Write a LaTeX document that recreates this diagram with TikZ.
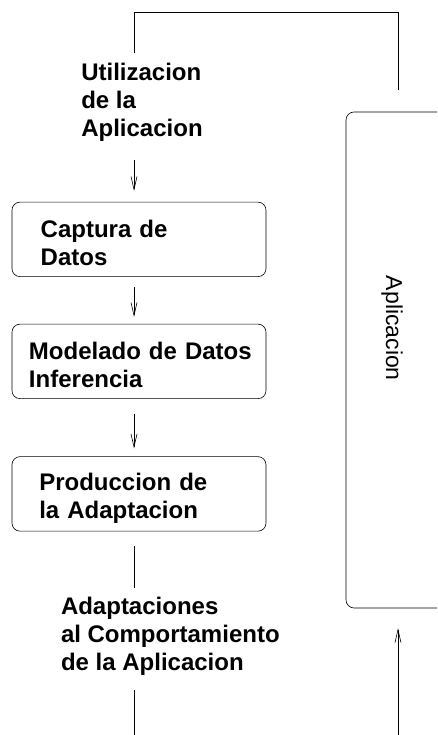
\documentclass[tikz,border=0pt]{standalone}
\usepackage{fontspec}
\setmainfont{Liberation Sans}
\usetikzlibrary{arrows.meta,positioning}

\begin{document}
\begin{tikzpicture}[x=1pt,y=1pt,->,>={Straight Barb[length=13pt,width=6pt]},%
    node distance=122pt,on grid,line width=0.6pt,
    caja/.style={draw,rounded corners=8pt,minimum width=254pt,
      minimum height=74.5pt,text width=246pt,align=left,inner sep=4pt,
      font=\bfseries\fontsize{24}{28}\selectfont,
      execute at begin node={\leftskip=#1\noindent\rule{0pt}{25.2pt}}},
    texto/.style={align=left,inner sep=0pt,anchor=north west,
      font=\bfseries\fontsize{24}{28}\selectfont}]
    \useasboundingbox (0,0) rectangle (437,735);
    \clip (0,0) rectangle (437,735);

    \node[texto]       (uso)        at (81,671.7)               {Utilizacion\\de la\\Aplicacion};
    \node[caja=24.7pt] (captura)    at (139,495.6)              {Captura de\\Datos};
    \node[caja=13pt]   (modelado)   [below=of captura]          {Modelado de Datos\\Inferencia};
    \node[caja=23.3pt] (produccion) [below=132.5pt of modelado] {Produccion de\\la Adaptacion};
    \node[texto]       (adapt)      at (60.7,138.2)             {Adaptaciones\\al Comportamiento\\de la Aplicacion};
    \node[draw,rounded corners=8pt,minimum width=114pt,minimum height=496pt] (app) at (403,375) {};
    \node[rotate=-90,font=\fontsize{23}{27}\selectfont] (nombre) at (392,406.6) {Aplicacion};

    \coordinate (eje)  at (134,0);
    \coordinate (lado) at (398,0);
    \coordinate (tope) at (398,723);

    \path (uso.south -| eje)        edge [shorten <=18pt,shorten >=11pt]  (captura.north -| eje)
          (captura.south -| eje)    edge [shorten <=10pt,shorten >=7pt]   (modelado.north -| eje)
          (modelado.south -| eje)   edge [shorten <=15pt,shorten >=8pt]   (produccion.north -| eje)
          (produccion.south -| eje) edge [-,shorten <=15pt,shorten >=9pt] (adapt.north -| eje)
          (adapt.south -| eje)      edge [-,shorten <=14pt]               (eje)
          (lado)                    edge [shorten >=20pt]                 (lado |- app.south);
    \draw[-,shorten <=10pt,shorten >=22pt] (uso.north -| eje) |- (tope) -- (lado |- app.north);
\end{tikzpicture}
\end{document}
